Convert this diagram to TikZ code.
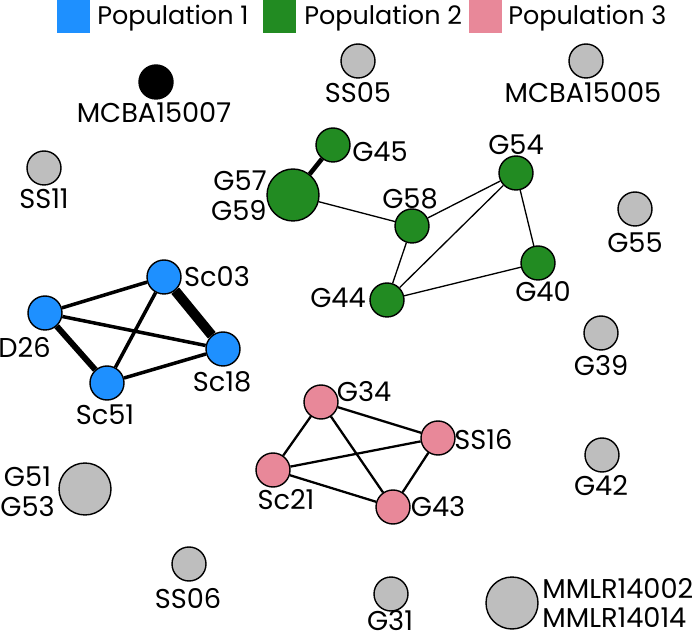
\documentclass[tikz,border=0pt]{standalone}
\usepackage{fontspec}
\setmainfont{Poppins}
\usepackage{xcolor}
\usepackage{tikz}
\definecolor{popone}{RGB}{30, 144, 255}
\definecolor{poptwo}{RGB}{34, 139, 34}
\definecolor{popthree}{RGB}{232, 136, 153}
\definecolor{single}{RGB}{190, 190, 190}

\begin{document}
\begin{tikzpicture}[
  x=0.02cm, y=-0.02cm,
  strain/.style={circle,draw=black,line width=0.8pt,minimum size=0.68cm,inner sep=0pt},
  big/.style={minimum size=1.04cm},
  lbl/.style={font=\fontsize{15.5}{17}\selectfont,inner sep=0pt,align=center},
  keylbl/.style={lbl,font=\fontsize{14.5}{17}\selectfont,anchor=west},
  key/.style={minimum size=0.67cm,inner sep=0pt}
]
\useasboundingbox (0,0) rectangle (700,638);
% legend
\node[key,fill=popone] (k1) at (73.5,16.5) {};
\node[keylbl] (k1t) at (97,18) {Population 1};
\node[key,fill=poptwo] (k2) at (279.5,16.5) {};
\node[keylbl] (k2t) at (304,18) {Population 2};
\node[key,fill=popthree] (k3) at (485.5,16.5) {};
\node[keylbl] (k3t) at (508,18) {Population 3};
% singletons
\node[strain,fill=black] (mcba7) at (156,82) {};
\node[lbl] (mcba7l) at (154,113) {MCBA15007};
\node[strain,fill=single] (ss05) at (358,61) {};
\node[lbl] (ss05l) at (358,93) {SS05};
\node[strain,fill=single] (mcba5) at (586,61) {};
\node[lbl] (mcba5l) at (583,93) {MCBA15005};
\node[strain,fill=single] (ss11) at (44,168) {};
\node[lbl] (ss11l) at (44,199) {SS11};
\node[strain,fill=single] (g55) at (635,209) {};
\node[lbl] (g55l) at (635,243) {G55};
\node[strain,fill=single] (g39) at (601,333) {};
\node[lbl] (g39l) at (601,366) {G39};
\node[strain,fill=single] (g42) at (602,455) {};
\node[lbl] (g42l) at (601,486) {G42};
\node[strain,big,fill=single] (g51) at (85,489) {};
\node[lbl,anchor=east] (g51l) at (55,492) {G51\\G53};
\node[strain,fill=single] (ss06) at (189,564) {};
\node[lbl] (ss06l) at (188,599) {SS06};
\node[strain,fill=single] (g31) at (391,594) {};
\node[lbl] (g31l) at (390,621) {G31};
\node[strain,big,fill=single] (mmlr) at (512,603) {};
\node[lbl,anchor=west,align=left] (mmlrl) at (542,603) {MMLR14002\\MMLR14014};
% population 1
\node[strain,fill=popone] (sc03) at (164,277) {};
\node[lbl] (sc03l) at (217,277) {Sc03};
\node[strain,fill=popone] (d26) at (45,313) {};
\node[lbl,anchor=east] (d26l) at (51,347) {D26};
\node[strain,fill=popone] (sc18) at (223,349) {};
\node[lbl] (sc18l) at (222,382) {Sc18};
\node[strain,fill=popone] (sc51) at (107,383) {};
\node[lbl] (sc51l) at (105,415) {Sc51};
\draw[line width=5.7pt] (sc03) -- (sc18);
\draw[line width=3.4pt] (d26) -- (sc51);
\draw[line width=2pt] (d26) -- (sc03);
\draw[line width=2pt] (d26) -- (sc18);
\draw[line width=2pt] (sc03) -- (sc51);
\draw[line width=2pt] (sc51) -- (sc18);
% population 2
\node[strain,fill=poptwo] (g45) at (333,145) {};
\node[lbl] (g45l) at (380,152) {G45};
\node[strain,big,fill=poptwo] (g57) at (293,195) {};
\node[lbl,anchor=east,align=right] (g57l) at (267,196) {G57\\G59};
\node[strain,fill=poptwo] (g58) at (412,226) {};
\node[lbl] (g58l) at (410,199) {G58};
\node[strain,fill=poptwo] (g54) at (516,173) {};
\node[lbl] (g54l) at (516,145) {G54};
\node[strain,fill=poptwo] (g40) at (538,263) {};
\node[lbl] (g40l) at (543,292) {G40};
\node[strain,fill=poptwo] (g44) at (387,300) {};
\node[lbl] (g44l) at (338,298) {G44};
\draw[line width=2.6pt] (g45) -- (g57);
\draw[line width=0.75pt] (g57) -- (g58);
\draw[line width=0.75pt] (g58) -- (g54);
\draw[line width=0.75pt] (g58) -- (g44);
\draw[line width=0.75pt] (g44) -- (g54);
\draw[line width=0.75pt] (g54) -- (g40);
\draw[line width=0.75pt] (g44) -- (g40);
% population 3
\node[strain,fill=popthree] (g34) at (321,402) {};
\node[lbl] (g34l) at (364,392) {G34};
\node[strain,fill=popthree] (ss16) at (438,438) {};
\node[lbl,anchor=west] (ss16l) at (454,440) {SS16};
\node[strain,fill=popthree] (sc21) at (273,470) {};
\node[lbl] (sc21l) at (286,500) {Sc21};
\node[strain,fill=popthree] (g43) at (393,507) {};
\node[lbl] (g43l) at (438,507) {G43};
\draw[line width=1.3pt] (g34) -- (sc21);
\draw[line width=1.3pt] (g34) -- (ss16);
\draw[line width=1.3pt] (g34) -- (g43);
\draw[line width=1.3pt] (sc21) -- (ss16);
\draw[line width=1.3pt] (sc21) -- (g43);
\draw[line width=1.3pt] (ss16) -- (g43);
\end{tikzpicture}
\end{document}
